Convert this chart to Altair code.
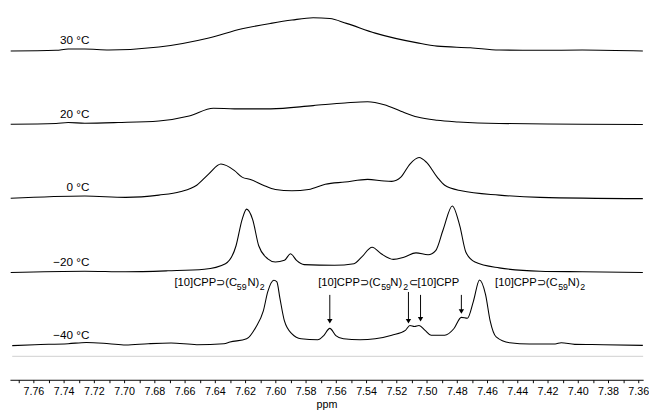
import altair as alt
import pandas as pd

# ---------------- data ----------------
temps = ["30 °C", "20 °C", "0 °C", "−20 °C", "−40 °C"]
baselines = [337, 262, 186, 110, 36]          # trace offsets (stacked spectra)
label_levels = [348, 272, 198, 121, 46]       # vertical level of temperature labels
label_ppm = 7.723

ppm_30 = [7.775, 7.745, 7.737, 7.726, 7.710, 7.677, 7.644, 7.622, 7.603, 7.589, 7.575,
          7.564, 7.553, 7.534, 7.506, 7.493, 7.471, 7.452, 7.425, 7.397, 7.357]
int_30 = [0, 0.7, 2, 2, 1, 4, 13.3, 22.7, 28.3, 31.7, 34, 33.3, 28.3, 18.3, 8.3, 5, 3.3,
          1, 0.7, 1, 0]

ppm_20 = [7.775, 7.745, 7.737, 7.726, 7.704, 7.677, 7.657, 7.641, 7.627, 7.603, 7.575,
          7.554, 7.539, 7.528, 7.517, 7.506, 7.493, 7.479, 7.452, 7.397, 7.357]
int_20 = [0, 0.7, 1.7, 1, 1.7, 3.3, 8.3, 16.3, 15.7, 15.7, 19, 21.7, 23, 20, 13.3, 7.3,
          4, 2.3, 0.7, 0, -0.3]

ppm_0 = [7.775, 7.726, 7.699, 7.677, 7.663, 7.652, 7.644, 7.636, 7.627, 7.622, 7.616,
         7.608, 7.600, 7.589, 7.578, 7.567, 7.554, 7.539, 7.528, 7.523, 7.517, 7.511,
         7.505, 7.500, 7.493, 7.488, 7.477, 7.452, 7.425, 7.357]
int_0 = [0, 2.3, 1, 3.3, 6.7, 13.4, 25.1, 35.1, 28.4, 21.7, 19.1, 13.4, 9, 7.7, 9, 14.4,
         16.7, 19.4, 17.7, 17.4, 21.7, 35.1, 41.8, 36.8, 21.7, 13.4, 7.7, 3.3, 1, -0.3]

ppm_m20 = [7.775, 7.726, 7.699, 7.671, 7.647, 7.633, 7.626, 7.622, 7.619, 7.615, 7.611,
           7.605, 7.600, 7.594, 7.590, 7.586, 7.581, 7.561, 7.548, 7.543, 7.536, 7.530,
           7.522, 7.515, 7.507, 7.499, 7.494, 7.489, 7.483, 7.478, 7.474, 7.468, 7.452,
           7.425, 7.397, 7.357]
int_m20 = [0, 1.3, 0.7, 1.7, 3.3, 9, 27.4, 54.2, 64.9, 54.2, 27.4, 14, 10.7, 12.4, 19.1,
           12.4, 8, 7.4, 9, 15.7, 25.8, 19.1, 13.4, 15.7, 20.1, 18.1, 22.4, 44.1, 68.2,
           47.5, 20.7, 10.7, 4.7, 1.3, 0.7, 0]

ppm_m40 = [7.774, 7.759, 7.737, 7.725, 7.710, 7.699, 7.684, 7.669, 7.652, 7.634, 7.630,
           7.619, 7.613, 7.608, 7.605, 7.601, 7.599, 7.597, 7.594, 7.589, 7.583, 7.572,
           7.568, 7.564, 7.560, 7.555, 7.544, 7.534, 7.523, 7.514, 7.511, 7.508, 7.505,
           7.501, 7.497, 7.488, 7.482, 7.477, 7.473, 7.469, 7.465, 7.461, 7.458, 7.454,
           7.445, 7.432, 7.415, 7.411, 7.402, 7.383, 7.357]
int_m40 = [-1, 0, 1, 2.3, 1, -0.3, 1, 1.7, 0, 1, 2.7, 6, 17.7, 34.3, 54.3, 66, 64.3, 47.7,
           24.3, 11, 6, 5, 9.3, 16.7, 9.3, 6, 5, 6, 9.7, 14.7, 19.7, 18.7, 19.7, 14.7, 9.7,
           9.7, 16.3, 28, 27, 44.7, 66.3, 51.3, 24.7, 8, 2, 0.7, 0.7, 2, 0.3, 0, -0.7]

# annotation text pieces (normal size and subscripts), start positions in ppm
ann_text = ["[10]CPP⊃(C", "N)", "[10]CPP⊃(C", "N)", "⊂[10]CPP", "[10]CPP⊃(C", "N)"]
ann_ppm = [7.6667, 7.6185, 7.5717, 7.524, 7.5119, 7.4547, 7.4066]
sub_text = ["59", "2", "59", "2", "59", "2"]
sub_ppm = [7.6255, 7.6103, 7.530, 7.5155, 7.413, 7.3984]
ann_level = 96

# arrows (ppm, top level, tip level)
arrow_ppm = [7.564, 7.512, 7.504, 7.477]
arrow_top = [87, 90, 87, 87]
arrow_tip = [57, 57, 59, 67]

# axis ticks
tick_positions = [7.77, 7.76, 7.75, 7.74, 7.73, 7.72, 7.71, 7.70, 7.69, 7.68, 7.67, 7.66,
                  7.65, 7.64, 7.63, 7.62, 7.61, 7.60, 7.59, 7.58, 7.57, 7.56, 7.55, 7.54,
                  7.53, 7.52, 7.51, 7.50, 7.49, 7.48, 7.47, 7.46, 7.45, 7.44, 7.43, 7.42,
                  7.41, 7.40, 7.39, 7.38, 7.37, 7.36]

# ---------------- tables ----------------
rows = []
for t, off, ps, vs in zip(temps, baselines,
                          [ppm_30, ppm_20, ppm_0, ppm_m20, ppm_m40],
                          [int_30, int_20, int_0, int_m20, int_m40]):
    for i, (p, v) in enumerate(zip(ps, vs)):
        rows.append({"temp": t, "order": i, "ppm": p, "y": off + v})
spec = pd.DataFrame(rows)

labels = pd.DataFrame({"temp": temps, "ppm": [label_ppm] * 5, "y": label_levels})
ann = pd.DataFrame({"text": ann_text, "ppm": ann_ppm, "y": [ann_level] * len(ann_text)})
subs = pd.DataFrame({"text": sub_text, "ppm": sub_ppm, "y": [ann_level] * len(sub_text)})
arrows = pd.DataFrame({"ppm": arrow_ppm, "top": arrow_top, "tip": arrow_tip})
grey = pd.DataFrame({"x1": [7.774], "x2": [7.3568], "y": [24]})

FONT = "Liberation Sans"
x_scale = alt.Scale(domain=[7.3568, 7.7755], reverse=True, nice=False, zero=False)
y_scale = alt.Scale(domain=[0, 376], nice=False, zero=False)
x_axis = alt.Axis(values=tick_positions,
                  labelExpr="round(datum.value*100) % 2 == 0 ? format(datum.value, '.2f') : ''",
                  tickSize=3, tickColor="black", tickWidth=1, domainColor="black",
                  domainWidth=1, labelFont=FONT, labelFontSize=11, labelColor="black",
                  labelPadding=3, labelOverlap=False, labelFlush=False, grid=False,
                  title="ppm", titleFont=FONT, titleFontSize=11, titleFontWeight="normal",
                  titleColor="black", titlePadding=2)


def X(field):
    return alt.X(field, type="quantitative", scale=x_scale, axis=x_axis)


def Y(field):
    return alt.Y(field, type="quantitative", scale=y_scale, axis=None)


grey_line = alt.Chart(grey).mark_rule(color="#d9d9d9", strokeWidth=1.5).encode(
    x=X("x1"), x2="x2", y=Y("y"))

lines = alt.Chart(spec).mark_line(color="black", strokeWidth=1.1,
                                  interpolate="monotone").encode(
    x=X("ppm"), y=Y("y"), detail="temp:N", order="order:Q")

temp_labels = alt.Chart(labels).mark_text(align="right", baseline="middle", font=FONT,
                                          fontSize=12, color="black").encode(
    x=X("ppm"), y=Y("y"), text="temp:N")

ann_main = alt.Chart(ann).mark_text(align="left", baseline="alphabetic", font=FONT,
                                    fontSize=11.5, color="black").encode(
    x=X("ppm"), y=Y("y"), text="text:N")

ann_sub = alt.Chart(subs).mark_text(align="left", baseline="alphabetic", font=FONT,
                                    fontSize=9, dy=4, color="black").encode(
    x=X("ppm"), y=Y("y"), text="text:N")

arrow_shafts = alt.Chart(arrows).transform_calculate(head="datum.tip + 4").mark_rule(
    color="black", strokeWidth=1).encode(x=X("ppm"), y=Y("top"), y2="head:Q")

arrow_heads = alt.Chart(arrows).transform_calculate(head="datum.tip + 3").mark_point(
    shape="triangle-down", filled=True, color="black", size=30, opacity=1).encode(
    x=X("ppm"), y=Y("head:Q"))

chart = alt.layer(grey_line, lines, temp_labels, ann_main, ann_sub, arrow_shafts,
                  arrow_heads).properties(
    width=649, height=376, padding=0).configure_view(stroke=None)

chart.save("out.html", embed_options={"renderer": "svg", "actions": False})
